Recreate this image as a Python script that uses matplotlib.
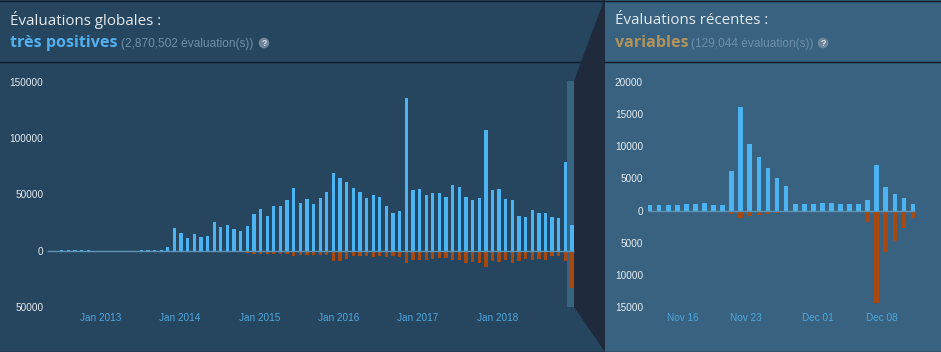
import matplotlib
matplotlib.use("Agg")
import matplotlib.pyplot as plt
from matplotlib.patches import Polygon, Rectangle, Circle
import numpy as np

# ---- data: overall reviews per month (thousands) ----
overall_up_k = [0.2, 0.2, 0.3, 1.0, 0.6, 0.4, 0.3, 0.2, 0.2, 0.2, 0.2, 0.2, 0.2, 0.2, 0.3, 0.3, 0.3, 0.4,
                3, 20, 16, 11.5, 14.5, 12.5, 13, 26, 21, 23, 19, 18, 22, 33, 37, 31, 40, 40, 45, 56,
                42.5, 46, 42, 47, 52, 69, 65, 61, 56, 52, 47, 50, 48, 40, 34, 35, 136, 54, 55, 50,
                51, 51, 48, 58.5, 57, 48, 45, 47, 107, 54, 55, 46, 45, 31, 30, 36, 34, 34, 30, 29,
                79, 23]
overall_down_k = [0.02, 0.02, 0.02, 0.02, 0.02, 0.02, 0.02, 0.02, 0.02, 0.02, 0.02, 0.02, 0.02, 0.02, 0.02, 0.02, 0.02, 0.02,
                  0.3, 0.6, 0.6, 0.5, 0.6, 0.5, 0.5, 1, 1, 1, 1, 1, 2, 2.5, 2.5, 2.5, 3, 3, 3, 5,
                  3.5, 3.5, 3.5, 4, 4, 9, 9, 7, 5, 5, 5, 5.5, 5, 5.5, 5, 5.5, 11, 8, 8, 8,
                  7, 6.5, 6.5, 8.5, 8.5, 10.5, 10, 10.5, 14.5, 9, 10, 8, 11, 9.5, 7.5, 8, 7.5, 8, 5, 5,
                  9, 33]
overall_ticks = ["Jan 2013", "Jan 2014", "Jan 2015", "Jan 2016", "Jan 2017", "Jan 2018"]
overall_yticks = [-50000, 0, 50000, 100000, 150000]

# ---- data: recent reviews per day (thousands) ----
recent_up_k = [0.9, 0.8, 0.8, 0.8, 0.95, 1.1, 1.15, 0.9, 0.85, 6.1, 16.1, 10.3, 8.4, 6.6, 5, 3.85,
               1.05, 1, 1.05, 1.2, 1.2, 0.95, 0.95, 1, 1.65, 7.1, 3.65, 2.65, 1.9, 0.95]
recent_down_k = [0.1, 0.05, 0.05, 0.05, 0.05, 0.1, 0.1, 0.05, 0.05, 0.6, 1.2, 0.85, 0.7, 0.6, 0.4, 0.25,
                 0.1, 0.1, 0.05, 0.05, 0.05, 0.05, 0.05, 0.1, 1.7, 14.3, 6.5, 4.8, 2.7, 1.1]
recent_ticks = ["Nov 16", "Nov 23", "Dec 01", "Dec 08"]
recent_tick_idx = [3.6, 10.6, 18.5, 25.5]
recent_yticks = [-15000, -10000, -5000, 0, 5000, 10000, 15000, 20000]

W, H = 941, 352
LEFT_BG, RIGHT_BG, WEDGE = "#26455f", "#38627f", "#1f2b3d"
BAND, RULE, UP, DOWN = "#39647f", "#0f1a24", "#4cb4f2", "#a6480f"
ZERO, XLAB = "#5f93b5", "#4fa8e0"
SANS, HEAD = "Liberation Sans", "Open Sans"

fig = plt.figure(figsize=(W / 100, H / 100), dpi=100, facecolor=LEFT_BG)

bg = fig.add_axes([0, 0, 1, 1])
bg.set_xlim(0, W); bg.set_ylim(H, 0); bg.axis("off")
bg.add_patch(Rectangle((0, 0), 605, H, fc=LEFT_BG, ec="none"))
bg.add_patch(Rectangle((605, 0), W - 605, H, fc=RIGHT_BG, ec="none"))
bg.add_patch(Rectangle((567, 81), 7, 226, fc=BAND, ec="none"))
bg.add_patch(Polygon([(604, 0), (605, 0), (605, H), (574, 307), (574, 81)], fc=WEDGE, ec="none", zorder=2))
bg.plot([0, 600], [62, 62], color=RULE, lw=1.0, zorder=1.5)
bg.plot([605, W], [62, 62], color=RULE, lw=1.0, zorder=3)
bg.plot([0, W], [0.5, 0.5], color=RULE, lw=1.0, zorder=3)
bg.plot([0, W], [351.5, 351.5], color=RULE, lw=1.0, zorder=3)


def axes_px(x0, x1, y_top, y_bottom):
    a = fig.add_axes([x0 / W, 1 - y_bottom / H, (x1 - x0) / W, (y_bottom - y_top) / H])
    a.patch.set_alpha(0)
    for s in a.spines.values():
        s.set_visible(False)
    return a


def draw(ax, up_k, down_k, yticks, ticks, tick_pos, width, ypad):
    n = len(up_k)
    idx = np.arange(n)
    ax.bar(idx, np.array(up_k) * 1000, width=width, color=UP, lw=0, zorder=2)
    ax.bar(idx, -np.array(down_k) * 1000, width=width, color=DOWN, lw=0, zorder=2)
    ax.hlines(0, -width / 2, n - 1 + width / 2, color=ZERO, lw=1.0, zorder=3)
    ax.set_xlim(-0.5, n - 0.5)
    ax.set_yticks(yticks, [str(abs(v)) for v in yticks])
    ax.set_xticks(tick_pos, ticks)
    ax.tick_params(axis="y", length=0, pad=ypad, labelsize=7.2, labelcolor="#e6edf2")
    ax.tick_params(axis="x", length=0, pad=4.2, labelsize=7.2, labelcolor=XLAB)
    for t in ax.get_xticklabels() + ax.get_yticklabels():
        t.set_family(SANS)


ax1 = axes_px(45.2, 575.3, 82, 307)
ax1.set_ylim(-50000, 150000)
draw(ax1, overall_up_k, overall_down_k, overall_yticks, overall_ticks,
     7.85 + 11.98 * np.arange(len(overall_ticks)), 0.5, 1.3)

ax2 = axes_px(645.5, 917.6, 82, 307)
ax2.set_ylim(-15000, 20000)
draw(ax2, recent_up_k, recent_down_k, recent_yticks, recent_ticks, recent_tick_idx, 0.52, 1.8)


def header(x, title, word, word_color, count, word_end, icon_x):
    bg.text(x, 20, title, family=HEAD, fontsize=10.9, color="#e4ebf0", va="center", ha="left")
    bg.text(x, 43, word, family=HEAD, fontsize=11.6, weight="bold", color=word_color, va="center", ha="left")
    bg.text(word_end, 44, count, family=SANS, fontsize=8.6, color="#6f90aa", va="center", ha="left")
    bg.add_patch(Circle((icon_x, 43), 5.3, fc="#6f8599", ec="none"))
    bg.text(icon_x, 43, "?", family=SANS, fontsize=6.5, weight="bold", color="#d5dee6", va="center", ha="center")


header(10, "Évaluations globales :", "très positives", "#52b0ee", "(2,870,502 évaluation(s))", 121, 264)
header(615, "Évaluations récentes :", "variables", "#b0935a", "(129,044 évaluation(s))", 691, 823)

fig.savefig("out.png", dpi=100, facecolor=fig.get_facecolor())
